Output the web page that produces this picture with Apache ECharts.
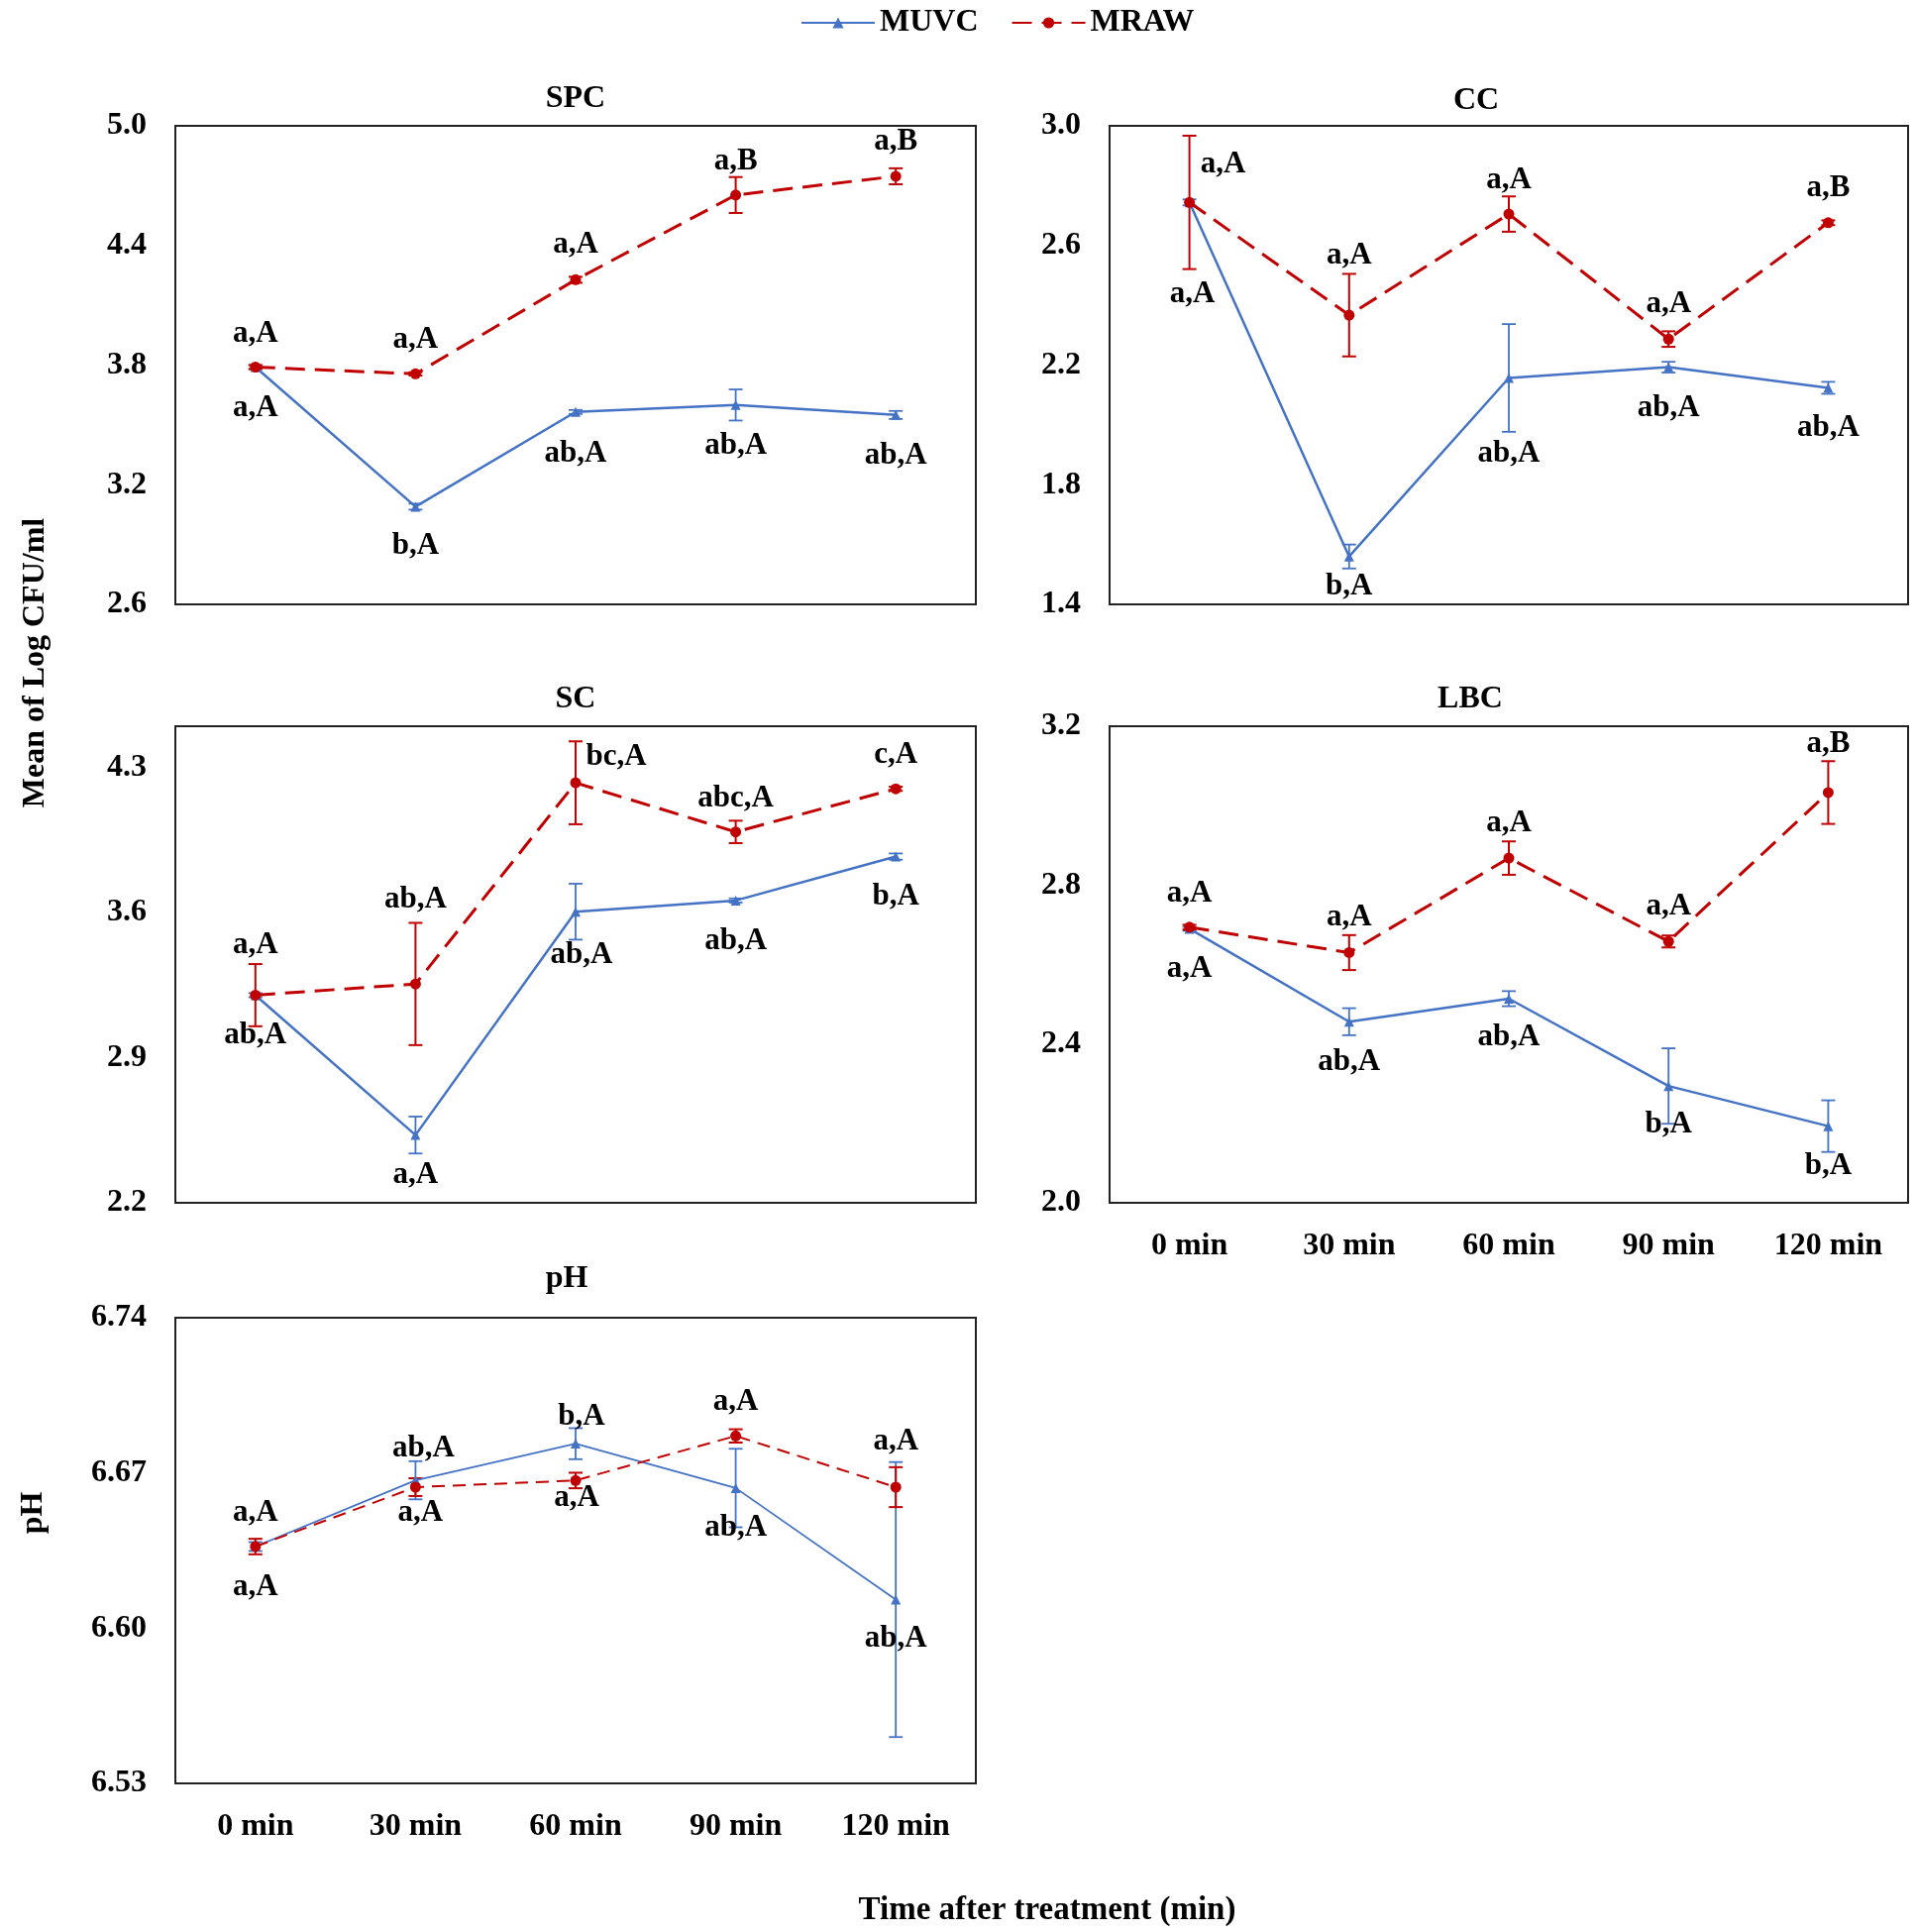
<!DOCTYPE html>
<html>
<head>
<meta charset="utf-8">
<script src="https://cdn.jsdelivr.net/npm/echarts@6/dist/echarts.min.js"></script>
<style>
html,body{margin:0;padding:0;background:#fff;}
#chart{width:1935px;height:1950px;}
</style>
</head>
<body>
<div id="chart"></div>
<script>
// ---------- data ----------
const categories = ['0 min', '30 min', '60 min', '90 min', '120 min'];

const spcMUVC = [3.79, 3.09, 3.565, 3.60, 3.55];
const spcMUVCsd = [0.01, 0.015, 0.01, 0.078, 0.02];
const spcMRAW = [3.79, 3.756, 4.228, 4.653, 4.747];
const spcMRAWsd = [0.01, 0.008, 0.015, 0.09, 0.04];
const spcMUVCletters = ['a,A', 'b,A', 'ab,A', 'ab,A', 'ab,A'];
const spcMRAWletters = ['a,A', 'a,A', 'a,A', 'a,B', 'a,B'];
const spcTicks = [2.6, 3.2, 3.8, 4.4, 5.0];

const ccMUVC = [2.744, 1.56, 2.157, 2.193, 2.124];
const ccMUVCsd = [0.01, 0.04, 0.18, 0.018, 0.02];
const ccMRAW = [2.744, 2.367, 2.705, 2.287, 2.676];
const ccMRAWsd = [0.223, 0.138, 0.059, 0.026, 0.008];
const ccMUVCletters = ['a,A', 'b,A', 'ab,A', 'ab,A', 'ab,A'];
const ccMRAWletters = ['a,A', 'a,A', 'a,A', 'a,A', 'a,B'];
const ccTicks = [1.4, 1.8, 2.2, 2.6, 3.0];

const scMUVC = [3.202, 2.527, 3.605, 3.659, 3.871];
const scMUVCsd = [0.01, 0.089, 0.135, 0.01, 0.015];
const scMRAW = [3.202, 3.256, 4.227, 3.99, 4.198];
const scMRAWsd = [0.15, 0.295, 0.2, 0.054, 0.01];
const scMUVCletters = ['ab,A', 'a,A', 'ab,A', 'ab,A', 'b,A'];
const scMRAWletters = ['a,A', 'ab,A', 'bc,A', 'abc,A', 'c,A'];
const scTicks = [2.2, 2.9, 3.6, 4.3];

const lbcMUVC = [2.69, 2.456, 2.514, 2.294, 2.193];
const lbcMUVCsd = [0.005, 0.034, 0.019, 0.095, 0.065];
const lbcMRAW = [2.694, 2.63, 2.868, 2.658, 3.033];
const lbcMRAWsd = [0.006, 0.044, 0.042, 0.015, 0.079];
const lbcMUVCletters = ['a,A', 'ab,A', 'ab,A', 'b,A', 'b,A'];
const lbcMRAWletters = ['a,A', 'a,A', 'a,A', 'a,A', 'a,B'];
const lbcTicks = [2.0, 2.4, 2.8, 3.2];

const phMUVC = [6.6368, 6.6667, 6.6832, 6.6632, 6.6129];
const phMUVCsd = [0.002, 0.0086, 0.007, 0.0177, 0.062];
const phMRAW = [6.6368, 6.6636, 6.6666, 6.6867, 6.6636];
const phMRAWsd = [0.0035, 0.004, 0.0035, 0.003, 0.009];
const phMUVCletters = ['a,A', 'ab,A', 'b,A', 'ab,A', 'ab,A'];
const phMRAWletters = ['a,A', 'a,A', 'a,A', 'a,A', 'a,A'];
const phTicks = [6.53, 6.60, 6.67, 6.74];

// ---------- layout / style (not data) ----------
const FONT = '"Liberation Serif", "Times New Roman", serif';
const BLUE = '#4472C4';
const RED = '#C00000';

const panels = [
  {title: 'SPC', tx: 581, ty: 100, grid: {left: 177, top: 127, width: 808, height: 483},
   min: 2.6, max: 5.0, ticks: spcTicks, dec: 1, xLabels: false, thin: false,
   muvc: spcMUVC, muvcSd: spcMUVCsd, mraw: spcMRAW, mrawSd: spcMRAWsd,
   muvcLab: spcMUVCletters, mrawLab: spcMRAWletters,
   muvcOff: [[0, 41], [0, 40], [0, 42], [0, 41], [0, 41]],
   mrawOff: [[0, -34], [0, -34], [0, -35], [0, -34], [0, -35]]},
  {title: 'CC', tx: 1490, ty: 102, grid: {left: 1120, top: 127, width: 806, height: 483},
   min: 1.4, max: 3.0, ticks: ccTicks, dec: 1, xLabels: false, thin: false,
   muvc: ccMUVC, muvcSd: ccMUVCsd, mraw: ccMRAW, mrawSd: ccMRAWsd,
   muvcLab: ccMUVCletters, mrawLab: ccMRAWletters,
   muvcOff: [[3, 93], [0, 30], [0, 77], [0, 41], [0, 41]],
   mrawOff: [[34, -38], [0, -60], [0, -34], [0, -35], [0, -35]]},
  {title: 'SC', tx: 581, ty: 706, grid: {left: 177, top: 733, width: 808, height: 481},
   min: 2.2, max: 4.5, ticks: scTicks, dec: 1, xLabels: false, thin: false,
   muvc: scMUVC, muvcSd: scMUVCsd, mraw: scMRAW, mrawSd: scMRAWsd,
   muvcLab: scMUVCletters, mrawLab: scMRAWletters,
   muvcOff: [[0, 41], [0, 40], [6, 44], [0, 41], [0, 40]],
   mrawOff: [[0, -50], [0, -85], [41, -26], [0, -34], [0, -34]]},
  {title: 'LBC', tx: 1484, ty: 706, grid: {left: 1120, top: 733, width: 806, height: 481},
   min: 2.0, max: 3.2, ticks: lbcTicks, dec: 1, xLabels: true, thin: false,
   muvc: lbcMUVC, muvcSd: lbcMUVCsd, mraw: lbcMRAW, mrawSd: lbcMRAWsd,
   muvcLab: lbcMUVCletters, mrawLab: lbcMRAWletters,
   muvcOff: [[0, 41], [0, 41], [0, 39], [0, 39], [0, 40]],
   mrawOff: [[0, -34], [0, -35], [0, -35], [0, -35], [0, -49]]},
  {title: 'pH', tx: 572, ty: 1291, grid: {left: 177, top: 1330, width: 808, height: 470},
   min: 6.53, max: 6.74, ticks: phTicks, dec: 2, xLabels: true, thin: true,
   muvc: phMUVC, muvcSd: phMUVCsd, mraw: phMRAW, mrawSd: phMRAWsd,
   muvcLab: phMUVCletters, mrawLab: phMRAWletters,
   muvcOff: [[0, 41], [8, -32], [6, -27], [0, 40], [0, 40]],
   mrawOff: [[0, -34], [5, 26], [1, 18], [0, -34], [0, -46]]}
];

function makeErr(color, lw) {
  return function (params, api) {
    const x = api.value(0);
    const lo = api.coord([x, api.value(1)]);
    const hi = api.coord([x, api.value(2)]);
    const w = 7;
    const st = {stroke: color, lineWidth: lw};
    return {type: 'group', children: [
      {type: 'line', shape: {x1: lo[0], y1: lo[1], x2: hi[0], y2: hi[1]}, style: st},
      {type: 'line', shape: {x1: lo[0] - w, y1: lo[1], x2: lo[0] + w, y2: lo[1]}, style: st},
      {type: 'line', shape: {x1: hi[0] - w, y1: hi[1], x2: hi[0] + w, y2: hi[1]}, style: st}
    ]};
  };
}

function pointData(vals, letters, offs) {
  return vals.map((v, i) => ({
    value: v,
    label: {show: true, position: 'inside', offset: offs[i], formatter: letters[i],
            color: '#000', fontFamily: FONT, fontWeight: 'bold', fontSize: 31,
            align: 'center', verticalAlign: 'middle'}
  }));
}

const grids = [], xAxes = [], yAxes = [], series = [], graphics = [];
panels.forEach((p, k) => {
  grids.push(Object.assign({show: true, borderColor: '#222', borderWidth: 2,
    backgroundColor: 'transparent'}, p.grid));
  xAxes.push({type: 'category', gridIndex: k, data: categories, boundaryGap: true,
    axisLine: {show: false}, axisTick: {show: false}, splitLine: {show: false},
    axisLabel: {show: p.xLabels, margin: 28, color: '#000', fontFamily: FONT,
      fontWeight: 'bold', fontSize: 32}});
  yAxes.push({type: 'value', gridIndex: k, min: p.min, max: p.max,
    axisLine: {show: false}, axisTick: {show: false}, splitLine: {show: false},
    axisLabel: {show: true, customValues: p.ticks, margin: 29, color: '#000',
      fontFamily: FONT, fontWeight: 'bold', fontSize: 32, padding: [6, 0, 0, 0],
      formatter: v => Number(v).toFixed(p.dec)}});
  const blw = p.thin ? 1.8 : 2.5;
  const rlw = p.thin ? 2 : 3;
  const dash = p.thin ? [13, 8] : [20, 10];
  series.push({
    name: 'MUVC SD', type: 'custom', xAxisIndex: k, yAxisIndex: k, z: 3,
    renderItem: makeErr(BLUE, 1.8),
    encode: {x: 0, y: [1, 2]},
    data: p.muvc.map((v, i) => [i, v - p.muvcSd[i], v + p.muvcSd[i]])
  });
  series.push({
    name: 'MRAW SD', type: 'custom', xAxisIndex: k, yAxisIndex: k, z: 3,
    renderItem: makeErr(RED, 2),
    encode: {x: 0, y: [1, 2]},
    data: p.mraw.map((v, i) => [i, v - p.mrawSd[i], v + p.mrawSd[i]])
  });
  series.push({
    name: 'MUVC', type: 'line', xAxisIndex: k, yAxisIndex: k, z: 4,
    symbol: 'triangle', symbolSize: 10, showAllSymbol: true,
    itemStyle: {color: BLUE}, lineStyle: {color: BLUE, width: blw, type: 'solid'},
    emphasis: {disabled: true}, animation: false,
    data: pointData(p.muvc, p.muvcLab, p.muvcOff)
  });
  series.push({
    name: 'MRAW', type: 'line', xAxisIndex: k, yAxisIndex: k, z: 5,
    symbol: 'circle', symbolSize: 11, showAllSymbol: true,
    itemStyle: {color: RED}, lineStyle: {color: RED, width: rlw, type: dash},
    emphasis: {disabled: true}, animation: false,
    data: pointData(p.mraw, p.mrawLab, p.mrawOff)
  });
  graphics.push({type: 'text', x: p.tx, y: p.ty, style: {text: p.title,
    font: 'bold 32px ' + FONT, fill: '#000', textAlign: 'center', textVerticalAlign: 'middle'}});
});

graphics.push({type: 'text', x: 36, y: 669, rotation: Math.PI / 2,
  style: {text: 'Mean of Log CFU/ml', font: 'bold 32px ' + FONT, fill: '#000',
    textAlign: 'center', textVerticalAlign: 'middle'}});
graphics.push({type: 'text', x: 34, y: 1527, rotation: Math.PI / 2,
  style: {text: 'pH', font: 'bold 32px ' + FONT, fill: '#000',
    textAlign: 'center', textVerticalAlign: 'middle'}});
graphics.push({type: 'text', x: 1057, y: 1928,
  style: {text: 'Time after treatment (min)', font: 'bold 33px ' + FONT, fill: '#000',
    textAlign: 'center', textVerticalAlign: 'middle'}});

const chart = echarts.init(document.getElementById('chart'), null, {renderer: 'canvas'});
chart.setOption({
  backgroundColor: '#fff',
  animation: false,
  textStyle: {fontFamily: FONT},
  legend: {
    data: ['MUVC', 'MRAW'], left: 803, top: 2, itemWidth: 74, itemHeight: 14, itemGap: 33,
    textStyle: {color: '#000', fontFamily: FONT, fontWeight: 'bold', fontSize: 32}
  },
  grid: grids,
  xAxis: xAxes,
  yAxis: yAxes,
  series: series,
  graphic: graphics
});
</script>
</body>
</html>
